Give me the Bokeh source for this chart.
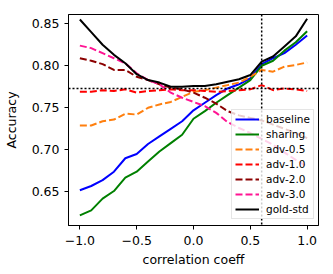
from bokeh.plotting import figure
from bokeh.models import FixedTicker, Span, Range1d
from bokeh.embed import file_html
from bokeh.resources import INLINE

x = [-1.0, -0.9, -0.8, -0.7, -0.6, -0.5, -0.4, -0.3, -0.2, -0.1, 0.0,
     0.1, 0.2, 0.3, 0.4, 0.5, 0.6, 0.7, 0.8, 0.9, 1.0]

baseline = [0.652, 0.657, 0.664, 0.674, 0.690, 0.695, 0.707, 0.716, 0.725, 0.734, 0.747,
            0.756, 0.765, 0.773, 0.778, 0.785, 0.802, 0.809, 0.815, 0.825, 0.836]
sharing = [0.622, 0.628, 0.642, 0.651, 0.667, 0.674, 0.686, 0.698, 0.708, 0.718, 0.737,
           0.746, 0.756, 0.765, 0.774, 0.783, 0.800, 0.806, 0.818, 0.828, 0.841]
adv_05 = [0.729, 0.729, 0.734, 0.736, 0.743, 0.742, 0.750, 0.754, 0.757, 0.763, 0.769,
          0.771, 0.774, 0.777, 0.780, 0.787, 0.795, 0.793, 0.799, 0.801, 0.804]
adv_10 = [0.769, 0.769, 0.771, 0.770, 0.772, 0.768, 0.770, 0.771, 0.772, 0.771, 0.771,
          0.770, 0.769, 0.770, 0.771, 0.772, 0.777, 0.771, 0.773, 0.772, 0.770]
adv_20 = [0.809, 0.806, 0.802, 0.795, 0.795, 0.787, 0.783, 0.778, 0.774, 0.772, 0.768,
          0.762, 0.755, 0.746, 0.741, 0.738, 0.735, 0.730, 0.725, 0.720, 0.714]
adv_30 = [0.824, 0.821, 0.815, 0.809, 0.803, 0.791, 0.783, 0.778, 0.768, 0.762, 0.757,
          0.752, 0.744, 0.733, 0.726, 0.720, 0.713, 0.706, 0.697, 0.688, 0.680]
gold_std = [0.855, 0.840, 0.825, 0.813, 0.803, 0.790, 0.783, 0.780, 0.775, 0.775, 0.776,
            0.776, 0.778, 0.781, 0.784, 0.789, 0.805, 0.811, 0.823, 0.835, 0.856]

x_ticks = [-1.0, -0.5, 0.0, 0.5, 1.0]
x_tick_labels = ["\u22121.0", "\u22120.5", "0.0", "0.5", "1.0"]
y_ticks = [0.65, 0.70, 0.75, 0.80, 0.85]
y_tick_labels = ["0.65", "0.70", "0.75", "0.80", "0.85"]
h_ref = 0.773
v_ref = 0.6

FONT = "DejaVu Sans"

p = figure(width=333, height=274, output_backend="svg", toolbar_location=None,
           x_range=Range1d(-1.1, 1.1), y_range=Range1d(0.61, 0.861),
           min_border_left=65, min_border_right=15, min_border_top=14, min_border_bottom=49)
p.xgrid.visible = False
p.ygrid.visible = False
p.outline_line_color = "black"
p.outline_line_alpha = 1.0
p.outline_line_width = 1
p.background_fill_color = "white"

series = [
    ("baseline", baseline, "#0000ff", "solid"),
    ("sharing", sharing, "#008000", "solid"),
    ("adv-0.5", adv_05, "#ff7f0e", "7 3"),
    ("adv-1.0", adv_10, "#ff0000", "7 3"),
    ("adv-2.0", adv_20, "#8b0000", "7 3"),
    ("adv-3.0", adv_30, "#ff1493", "7 3"),
    ("gold-std", gold_std, "#000000", "solid"),
]
for name, ys, color, dash in series:
    p.line(x, ys, line_color=color, line_width=2, line_dash=dash, legend_label=name)

p.add_layout(Span(location=h_ref, dimension="width", line_color="black",
                  line_dash="2 2", line_width=1.5))
p.add_layout(Span(location=v_ref, dimension="height", line_color="black",
                  line_dash="2 2", line_width=1.5))

for ax in (p.xaxis[0], p.yaxis[0]):
    ax.major_label_text_font = FONT
    ax.major_label_text_font_size = "12.5px"
    ax.major_label_text_color = "black"
    ax.axis_label_text_font = FONT
    ax.axis_label_text_font_size = "12.5px"
    ax.axis_label_text_font_style = "normal"
    ax.axis_label_text_color = "black"
    ax.minor_tick_line_color = None
    ax.major_tick_in = 0
    ax.major_tick_out = 4
    ax.major_tick_line_color = "black"
    ax.axis_line_color = "black"

p.xaxis[0].major_label_standoff = 6
p.yaxis[0].major_label_standoff = 5
p.xaxis[0].ticker = FixedTicker(ticks=x_ticks)
p.xaxis[0].major_label_overrides = dict(zip(x_ticks, x_tick_labels))
p.yaxis[0].ticker = FixedTicker(ticks=y_ticks)
p.yaxis[0].major_label_overrides = dict(zip(y_ticks, y_tick_labels))
p.xaxis[0].axis_label = "correlation coeff"
p.yaxis[0].axis_label = "Accuracy"
p.xaxis[0].axis_label_standoff = 4
p.yaxis[0].axis_label_standoff = 10

lg = p.legend[0]
lg.location = (163, 6)
lg.margin = 0
lg.padding = 3
lg.spacing = 3
lg.glyph_width = 24
lg.glyph_height = 12
lg.label_height = 12
lg.label_standoff = 7
lg.label_text_font = FONT
lg.label_text_font_size = "10.5px"
lg.label_text_color = "black"
lg.background_fill_color = "white"
lg.background_fill_alpha = 0.8
lg.border_line_color = "#cccccc"
lg.border_line_width = 1

open("out.html", "w").write(file_html(p, INLINE))
